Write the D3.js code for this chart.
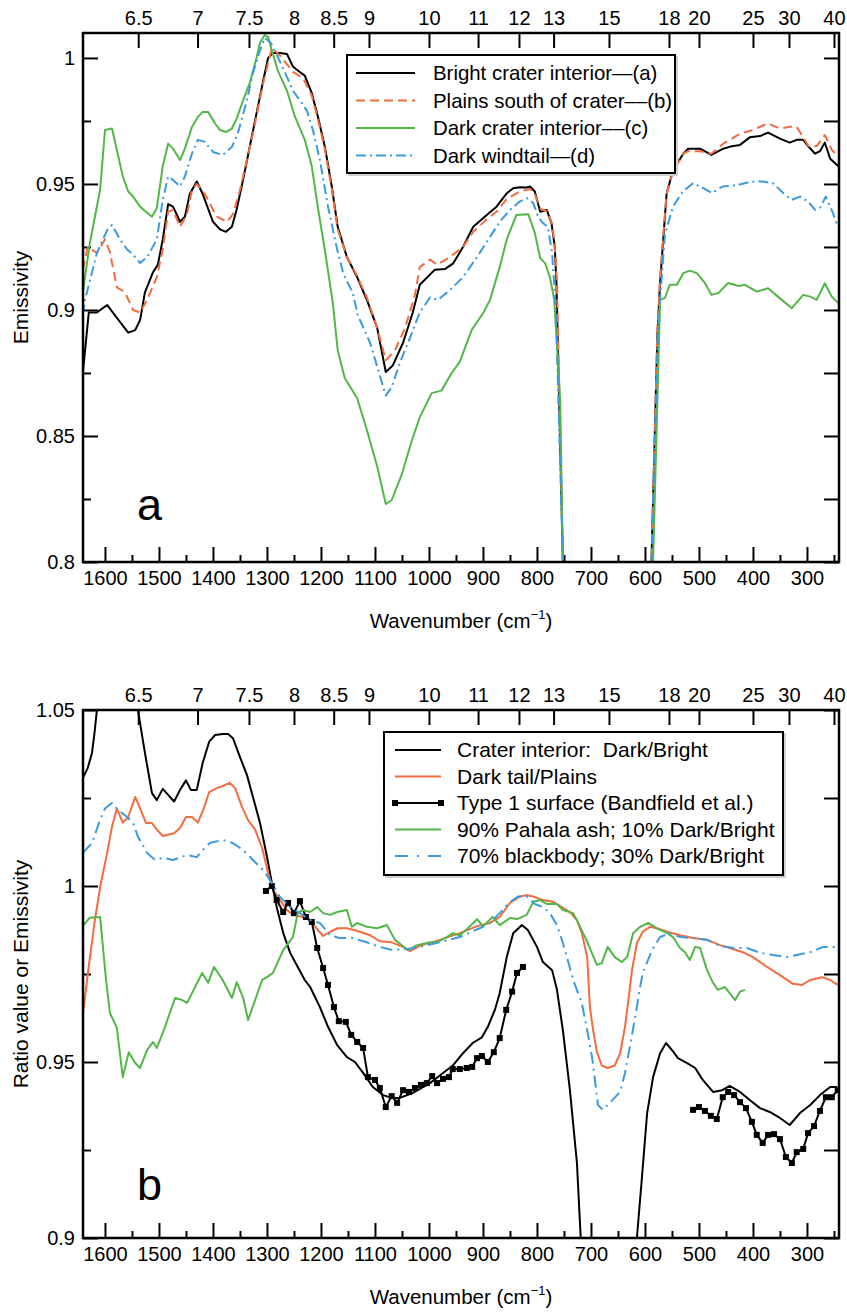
<!DOCTYPE html>
<html>
<head>
<meta charset="utf-8">
<script src="https://cdn.jsdelivr.net/npm/d3@7"></script>
<style>
  body { margin: 0; background: #fff; }
  svg text { font-family: "Liberation Sans", Arial, Helvetica, sans-serif; fill: #000; }
</style>
</head>
<body>
<svg id="chart" width="847" height="1314"></svg>
<script>
// ---- axis ticks ----
const wnMajor = [1600, 1500, 1400, 1300, 1200, 1100, 1000, 900, 800, 700, 600, 500, 400, 300];
const wnMinor = [1550, 1450, 1350, 1250, 1150, 1050, 950, 850, 750, 650, 550, 450, 350, 250];
const micronTicks = [6.5, 7, 7.5, 8, 8.5, 9, 10, 11, 12, 13, 15, 18, 20, 25, 30, 40];
const yMajorA = [0.8, 0.85, 0.9, 0.95, 1];
const yMinorA = [0.825, 0.875, 0.925, 0.975];
const yMajorB = [0.9, 0.95, 1, 1.05];
const yMinorB = [0.925, 0.975, 1.025];

// ---- panel a: emissivity spectra [wavenumber, emissivity] ----
const brightInterior = [
  [1641,0.875],[1630,0.899],[1615,0.899],[1596,0.902],[1582,0.898],[1557,0.891],[1544,0.892],[1535,0.896],
  [1526,0.907],[1511,0.915],[1502,0.918],[1493,0.928],[1483,0.942],[1474,0.941],[1461,0.935],[1452,0.937],
  [1443,0.946],[1430,0.951],[1419,0.946],[1400,0.935],[1387,0.932],[1376,0.931],[1365,0.933],[1356,0.940],
  [1344,0.952],[1326,0.971],[1307,0.991],[1298,1.000],[1289,1.002],[1276,1.002],[1263,1.0016],[1252,0.9966],
  [1243,0.995],[1230,0.993],[1217,0.986],[1206,0.977],[1193,0.965],[1180,0.949],[1169,0.933],[1152,0.921],
  [1133,0.913],[1115,0.904],[1096,0.893],[1080,0.8754],[1067,0.878],[1048,0.887],[1030,0.899],[1017,0.910],
  [989,0.916],[970,0.9163],[955,0.9185],[937,0.925],[918,0.933],[893,0.9377],[875,0.941],[856,0.9463],
  [844,0.9483],[832,0.9487],[819,0.9486],[813,0.949],[804,0.947],[794,0.939],[782,0.9397],[773,0.9344],
  [767,0.925],[764,0.911],[752,0.8],[745,0.75],[592,0.75],[588,0.8],[577,0.89],[572,0.911],[560,0.946],
  [548,0.9556],[529,0.962],[520,0.964],[498,0.964],[477,0.9615],[455,0.964],[439,0.965],[424,0.9655],
  [406,0.9685],[387,0.969],[372,0.9704],[350,0.968],[332,0.9664],[319,0.9675],[307,0.9675],[298,0.965],
  [285,0.962],[276,0.963],[267,0.9664],[257,0.960],[242,0.957]
];
const plainsSouth = [
  [1641,0.916],[1632,0.925],[1615,0.9226],[1600,0.928],[1591,0.923],[1578,0.909],[1563,0.907],[1548,0.900],
  [1535,0.899],[1522,0.904],[1504,0.913],[1493,0.924],[1483,0.939],[1474,0.9397],[1461,0.933],[1448,0.938],
  [1439,0.9476],[1430,0.950],[1415,0.946],[1393,0.937],[1374,0.935],[1363,0.938],[1350,0.9476],[1326,0.970],
  [1307,0.990],[1291,1.004],[1276,1.001],[1252,0.9945],[1233,0.992],[1217,0.985],[1206,0.976],[1193,0.964],
  [1180,0.948],[1169,0.932],[1152,0.921],[1133,0.9135],[1115,0.905],[1096,0.893],[1080,0.880],[1063,0.884],
  [1044,0.893],[1026,0.906],[1017,0.917],[998,0.920],[985,0.918],[961,0.921],[937,0.925],[918,0.931],
  [893,0.936],[875,0.939],[856,0.944],[832,0.947],[813,0.948],[804,0.946],[793,0.940],[780,0.939],
  [772,0.934],[767,0.925],[763,0.911],[752,0.8],[745,0.75],[592,0.75],[588,0.8],[577,0.892],[572,0.913],
  [560,0.946],[548,0.955],[529,0.962],[520,0.963],[498,0.963],[477,0.962],[455,0.966],[439,0.968],
  [424,0.970],[406,0.971],[387,0.9727],[372,0.974],[350,0.972],[332,0.9727],[319,0.9727],[297,0.965],
  [282,0.965],[267,0.9694],[254,0.9635],[242,0.961]
];
const darkInterior = [
  [1641,0.907],[1628,0.9266],[1609,0.9476],[1600,0.9714],[1587,0.972],[1578,0.9635],[1567,0.953],[1557,0.947],
  [1548,0.945],[1535,0.941],[1513,0.937],[1504,0.9405],[1493,0.957],[1483,0.966],[1474,0.964],[1461,0.9595],
  [1452,0.964],[1439,0.9726],[1428,0.9766],[1419,0.9786],[1409,0.9786],[1396,0.974],[1387,0.9714],[1376,0.9706],
  [1365,0.972],[1356,0.976],[1344,0.9833],[1332,0.990],[1319,1.0004],[1313,1.006],[1304,1.0091],[1298,1.0083],
  [1291,1.003],[1280,0.995],[1263,0.987],[1248,0.9766],[1230,0.9675],[1217,0.957],[1206,0.941],[1193,0.924],
  [1178,0.9027],[1169,0.884],[1156,0.873],[1133,0.865],[1115,0.8524],[1096,0.838],[1080,0.823],[1069,0.8246],
  [1050,0.835],[1032,0.848],[1017,0.8575],[995,0.867],[977,0.868],[958,0.875],[943,0.8794],[921,0.892],
  [899,0.899],[887,0.904],[869,0.917],[856,0.928],[838,0.9377],[816,0.938],[804,0.9306],[794,0.9206],
  [785,0.9186],[776,0.913],[768,0.904],[757,0.864],[752,0.8],[745,0.75],[590,0.75],[585,0.8],[572,0.904],
  [563,0.9048],[554,0.910],[541,0.910],[529,0.9146],[517,0.9156],[504,0.9146],[489,0.9107],[477,0.906],
  [464,0.9067],[446,0.9107],[427,0.9095],[415,0.910],[393,0.9073],[372,0.9086],[350,0.9046],[328,0.9007],
  [307,0.906],[294,0.9053],[282,0.904],[267,0.9106],[254,0.9053],[242,0.9027]
];
const darkWindtail = [
  [1641,0.898],[1637,0.904],[1615,0.9226],[1596,0.9317],[1587,0.9337],[1572,0.928],[1559,0.924],[1548,0.922],
  [1535,0.9186],[1522,0.921],[1504,0.928],[1493,0.9437],[1483,0.953],[1474,0.9516],[1461,0.949],[1452,0.953],
  [1439,0.962],[1428,0.9675],[1415,0.9667],[1400,0.9627],[1382,0.9615],[1365,0.9647],[1354,0.970],[1337,0.9833],
  [1326,0.994],[1313,1.003],[1304,1.008],[1293,1.006],[1280,1.0004],[1263,0.9925],[1252,0.987],[1235,0.982],
  [1226,0.979],[1215,0.9714],[1202,0.9595],[1187,0.941],[1170,0.924],[1159,0.9147],[1141,0.9067],[1132,0.898],
  [1109,0.887],[1080,0.866],[1069,0.8694],[1054,0.879],[1035,0.889],[1017,0.899],[998,0.905],[983,0.904],
  [961,0.908],[937,0.913],[911,0.921],[887,0.929],[869,0.935],[850,0.9397],[832,0.943],[819,0.9444],
  [807,0.9425],[798,0.937],[789,0.9345],[780,0.933],[772,0.9226],[765,0.90],[752,0.8],[745,0.75],
  [592,0.75],[588,0.8],[576,0.893],[563,0.930],[548,0.941],[530,0.947],[511,0.9503],[493,0.9484],
  [476,0.9464],[456,0.949],[428,0.9496],[406,0.9508],[382,0.951],[363,0.9503],[344,0.9464],[328,0.9437],
  [313,0.945],[298,0.943],[285,0.9397],[276,0.9405],[265,0.945],[252,0.9385],[243,0.933]
];

// ---- panel b: ratios and models [wavenumber, value] ----
const craterRatio = [
  [1641,1.0307],[1632,1.0335],[1624,1.0378],[1619,1.044],[1615,1.05],[1609,1.06],[1544,1.06],[1539,1.05],
  [1526,1.0378],[1513,1.0264],[1504,1.0244],[1493,1.0276],[1483,1.0259],[1472,1.024],[1461,1.0273],[1450,1.030],
  [1441,1.0273],[1430,1.0273],[1419,1.035],[1407,1.041],[1396,1.0429],[1382,1.0432],[1372,1.0432],[1363,1.042],
  [1350,1.0366],[1337,1.0315],[1326,1.0253],[1313,1.018],[1300,1.0083],[1291,1.0009],[1282,0.994],[1270,0.9867],
  [1257,0.981],[1243,0.977],[1230,0.9733],[1220,0.9713],[1202,0.9656],[1187,0.960],[1170,0.9548],[1152,0.9514],
  [1137,0.950],[1122,0.9469],[1104,0.9429],[1085,0.9406],[1069,0.9398],[1054,0.9398],[1030,0.9412],[998,0.944],
  [974,0.9469],[956,0.949],[937,0.9525],[919,0.9554],[902,0.957],[891,0.960],[878,0.9648],[869,0.9696],
  [856,0.9798],[844,0.9866],[828,0.9889],[817,0.9875],[800,0.9827],[789,0.9784],[772,0.9761],[763,0.9705],
  [752,0.959],[739,0.942],[726,0.9213],[719,0.90],[711,0.88],[622,0.88],[615,0.90],[606,0.9165],
  [596,0.9355],[585,0.9457],[572,0.9525],[561,0.9554],[548,0.953],[539,0.9511],[522,0.9497],[507,0.9483],
  [493,0.9449],[474,0.9415],[457,0.942],[443,0.9432],[424,0.9415],[406,0.9392],[387,0.9369],[369,0.9358],
  [350,0.9341],[332,0.9321],[313,0.9355],[294,0.9378],[276,0.9406],[257,0.9429],[244,0.9429]
];
const tailPlainsRatio = [
  [1641,0.9634],[1631,0.976],[1619,0.990],[1609,0.9997],[1596,1.0094],[1587,1.0168],[1578,1.022],[1567,1.018],
  [1557,1.0196],[1544,1.0253],[1535,1.022],[1524,1.0179],[1513,1.0179],[1504,1.016],[1493,1.0142],[1472,1.015],
  [1461,1.0165],[1450,1.0196],[1439,1.0196],[1428,1.018],[1417,1.022],[1407,1.0267],[1393,1.0278],[1382,1.0284],
  [1369,1.0293],[1359,1.0278],[1346,1.0224],[1335,1.0187],[1322,1.016],[1309,1.0108],[1298,1.0037],[1289,0.9989],
  [1276,0.996],[1263,0.9932],[1252,0.9918],[1233,0.9912],[1217,0.9898],[1206,0.9875],[1196,0.9858],[1183,0.987],
  [1169,0.988],[1152,0.988],[1132,0.9872],[1109,0.986],[1091,0.9843],[1069,0.984],[1048,0.9827],[1035,0.9815],
  [1017,0.983],[980,0.9847],[943,0.9866],[911,0.9886],[887,0.9895],[869,0.9912],[850,0.9952],[832,0.997],
  [819,0.9974],[807,0.997],[789,0.996],[770,0.9955],[754,0.994],[739,0.9926],[726,0.9903],[717,0.9866],
  [707,0.9798],[702,0.9656],[696,0.959],[689,0.9528],[680,0.949],[669,0.9483],[656,0.949],[646,0.9525],
  [637,0.960],[630,0.9685],[624,0.9761],[615,0.9838],[604,0.987],[591,0.9884],[578,0.988],[559,0.987],
  [535,0.986],[511,0.9852],[485,0.9847],[461,0.9832],[437,0.9821],[419,0.9812],[400,0.9798],[374,0.977],
  [350,0.9747],[326,0.9722],[309,0.9719],[294,0.9733],[272,0.9741],[257,0.9733],[243,0.9719]
];
const type1Surface = [
  [1302,0.9986],[1291,1.0],[1282,0.996],[1270,0.9926],[1261,0.9952],[1250,0.9923],[1239,0.9957],[1228,0.9912],
  [1217,0.9898],[1207,0.9824],[1196,0.9767],[1187,0.9719],[1176,0.9656],[1167,0.9616],[1154,0.9614],[1144,0.9577],
  [1133,0.9557],[1122,0.954],[1113,0.9457],[1100,0.9449],[1091,0.9426],[1080,0.9372],[1069,0.9403],[1059,0.9384],
  [1048,0.942],[1037,0.9415],[1026,0.9426],[1015,0.9435],[1004,0.944],[994,0.946],[985,0.944],[974,0.9452],
  [963,0.9457],[956,0.948],[943,0.948],[930,0.9483],[920,0.9486],[911,0.9511],[902,0.9517],[891,0.950],
  [880,0.9528],[869,0.9568],[857,0.9648],[846,0.970],[837,0.9753],[826,0.977]
];
const type1SurfaceFar = [
  [511,0.9364],[500,0.9372],[489,0.9361],[478,0.9347],[467,0.9338],[456,0.940],[446,0.9415],[435,0.9406],
  [424,0.9386],[413,0.9369],[402,0.933],[393,0.9293],[382,0.927],[372,0.9293],[361,0.9295],[350,0.9281],
  [339,0.923],[328,0.9213],[319,0.9244],[307,0.9253],[298,0.9298],[287,0.9318],[276,0.9361],[265,0.940],
  [254,0.940],[243,0.942]
];
const pahalaMix = [
  [1641,0.9886],[1628,0.991],[1609,0.9912],[1598,0.9733],[1591,0.964],[1578,0.9597],[1567,0.9457],[1556,0.9528],
  [1544,0.9497],[1535,0.9483],[1522,0.9534],[1511,0.9557],[1504,0.954],[1493,0.9582],[1470,0.9682],[1457,0.9676],
  [1448,0.9668],[1420,0.9753],[1409,0.9725],[1398,0.977],[1382,0.9733],[1365,0.9682],[1356,0.9727],[1344,0.9682],
  [1335,0.9619],[1322,0.9676],[1309,0.9733],[1300,0.9741],[1289,0.9753],[1270,0.9818],[1252,0.9855],[1243,0.9923],
  [1233,0.9932],[1220,0.9926],[1207,0.994],[1196,0.9923],[1183,0.9918],[1170,0.9926],[1152,0.9932],[1143,0.9884],
  [1133,0.9895],[1115,0.9884],[1096,0.988],[1078,0.9889],[1063,0.9847],[1039,0.9818],[1022,0.9832],[998,0.984],
  [985,0.984],[967,0.9855],[956,0.9866],[943,0.986],[928,0.988],[911,0.9906],[900,0.9886],[882,0.9912],
  [869,0.9889],[850,0.9909],[837,0.9906],[819,0.9918],[807,0.9955],[794,0.996],[782,0.9949],[763,0.9949],
  [752,0.9932],[733,0.9923],[720,0.9884],[706,0.9838],[689,0.9776],[680,0.9781],[669,0.9827],[656,0.9798],
  [643,0.9784],[633,0.9798],[622,0.9866],[609,0.9884],[594,0.9895],[578,0.988],[559,0.9866],[548,0.9855],
  [535,0.9824],[526,0.9812],[517,0.979],[507,0.9827],[498,0.9824],[485,0.9761],[474,0.9725],[465,0.9705],
  [452,0.9713],[433,0.9676],[424,0.970],[415,0.9705]
];
const blackbodyMix = [
  [1641,1.0094],[1624,1.0122],[1609,1.0188],[1600,1.022],[1587,1.0236],[1576,1.0216],[1559,1.0196],[1548,1.0179],
  [1539,1.014],[1522,1.0094],[1507,1.0074],[1493,1.008],[1474,1.0074],[1448,1.0088],[1430,1.0082],[1419,1.0102],
  [1406,1.0122],[1382,1.0131],[1363,1.0122],[1344,1.0102],[1326,1.0074],[1307,1.0045],[1291,1.0009],[1276,0.9969],
  [1257,0.994],[1239,0.9923],[1220,0.9903],[1202,0.9895],[1183,0.986],[1165,0.9852],[1141,0.9852],[1115,0.984],
  [1091,0.9827],[1067,0.9818],[1041,0.9821],[1017,0.9827],[980,0.984],[943,0.9855],[906,0.988],[887,0.9895],
  [869,0.9923],[850,0.9955],[835,0.997],[819,0.997],[804,0.9949],[789,0.994],[776,0.9923],[763,0.9889],
  [752,0.9838],[743,0.979],[733,0.9733],[717,0.9668],[707,0.959],[698,0.9514],[687,0.9378],[678,0.9364],
  [665,0.9384],[646,0.9415],[637,0.9469],[628,0.9543],[619,0.962],[609,0.9713],[604,0.9753],[587,0.9818],
  [572,0.9855],[554,0.9866],[535,0.9855],[511,0.9852],[485,0.9847],[461,0.983],[437,0.9824],[411,0.9824],
  [387,0.981],[363,0.9804],[337,0.9798],[319,0.9804],[294,0.9812],[270,0.9827],[243,0.9827]
];

// ---- colours ----
const BLACK = '#000', ORANGE = '#f26c3f', GREEN = '#52b747', BLUE = '#3c9ade';

const svg = d3.select('#chart');
const left = 83, right = 839;
const x = d3.scaleLinear().domain([1640.7, 240.7]).range([left, right]);

function drawPanel(cfg) {
  const { top, bottom, id } = cfg;
  const y = d3.scaleLinear().domain(cfg.yDomain).range([bottom, top]);
  const g = svg.append('g');

  g.append('clipPath').attr('id', 'clip-' + id)
    .append('rect')
      .attr('x', left).attr('y', top)
      .attr('width', right - left).attr('height', bottom - top);

  // 1) ticks (all pointing inward)
  const fmt = d => String(+d.toFixed(3));
  const tickStyle = sel => {
    sel.select('.domain').remove();
    sel.selectAll('line').attr('stroke', '#000').attr('stroke-width', 2);
    sel.selectAll('text').style('font-size', '20px').attr('fill', '#000');
  };

  g.append('g').attr('transform', `translate(0,${bottom})`)
    .call(d3.axisBottom(x).tickValues(wnMajor).tickSize(-15).tickPadding(9).tickFormat(d3.format('d')))
    .call(tickStyle);
  g.append('g').attr('transform', `translate(0,${bottom})`)
    .call(d3.axisBottom(x).tickValues(wnMinor).tickSize(-7).tickFormat(''))
    .call(tickStyle);

  g.append('g').attr('transform', `translate(0,${top})`)
    .call(d3.axisTop(x).tickValues(micronTicks.map(m => 1e4 / m)).tickSize(-15).tickPadding(8)
      .tickFormat(d => fmt(1e4 / d)))
    .call(tickStyle);

  g.append('g').attr('transform', `translate(${left},0)`)
    .call(d3.axisLeft(y).tickValues(cfg.yMajor).tickSize(-15).tickPadding(8).tickFormat(fmt))
    .call(tickStyle);
  g.append('g').attr('transform', `translate(${left},0)`)
    .call(d3.axisLeft(y).tickValues(cfg.yMinor).tickSize(-8).tickFormat(''))
    .call(tickStyle);

  g.append('g').attr('transform', `translate(${right},0)`)
    .call(d3.axisRight(y).tickValues(cfg.yMajor.concat(cfg.yMinor)).tickSize(-15).tickFormat(''))
    .call(tickStyle);

  // 2) curves
  const line = d3.line().x(d => x(d[0])).y(d => y(d[1]));
  const plot = g.append('g').attr('clip-path', `url(#clip-${id})`);
  cfg.series.forEach(s => {
    plot.append('path')
      .datum(s.data)
      .attr('fill', 'none')
      .attr('stroke', s.color)
      .attr('stroke-width', s.width || 2)
      .attr('stroke-linejoin', 'round')
      .attr('stroke-dasharray', s.dash || null)
      .attr('d', line);
    if (s.markers) {
      plot.append('g').selectAll('rect')
        .data(s.data)
        .join('rect')
          .attr('x', d => x(d[0]) - 3)
          .attr('y', d => y(d[1]) - 3)
          .attr('width', 6).attr('height', 6)
          .attr('fill', s.color);
    }
  });

  // 3) frame
  g.append('rect')
    .attr('x', left).attr('y', top)
    .attr('width', right - left).attr('height', bottom - top)
    .attr('fill', 'none').attr('stroke', '#000').attr('stroke-width', 2.5);

  // 4) titles
  const xt = g.append('text')
    .attr('x', (left + right) / 2).attr('y', bottom + 66)
    .attr('text-anchor', 'middle').style('font-size', '20.5px')
    .text('Wavenumber (cm');
  xt.append('tspan').attr('dy', -9).style('font-size', '13px').text('\u22121');
  xt.append('tspan').attr('dy', 9).text(')');

  g.append('text')
    .attr('transform', `translate(28,${(top + bottom) / 2}) rotate(-90)`)
    .attr('text-anchor', 'middle').style('font-size', '21px')
    .text(cfg.yTitle);

  g.append('text')
    .attr('x', 137).attr('y', cfg.tagY)
    .style('font-size', '45px')
    .text(id);

  // 5) legend (with a faint drop shadow)
  const L = cfg.legend;
  const lg = g.append('g');
  lg.append('rect')
    .attr('x', L.x + 2).attr('y', L.y + 2).attr('width', L.w).attr('height', L.h)
    .attr('fill', 'none').attr('stroke', '#d0d0d0').attr('stroke-width', 2);
  lg.append('rect')
    .attr('x', L.x).attr('y', L.y).attr('width', L.w).attr('height', L.h)
    .attr('fill', '#fff').attr('stroke', '#000').attr('stroke-width', 2);
  cfg.series.filter(s => s.label).forEach((s, i) => {
    const cy = L.y + L.first + i * L.step;
    lg.append('line')
      .attr('x1', L.x1).attr('x2', L.x2).attr('y1', cy).attr('y2', cy)
      .attr('stroke', s.color).attr('stroke-width', 2)
      .attr('stroke-dasharray', s.legendDash || s.dash || null);
    if (s.markers) {
      [L.x1, L.x2].forEach(mx => lg.append('rect')
        .attr('x', mx - 3).attr('y', cy - 3).attr('width', 6).attr('height', 6).attr('fill', s.color));
    }
    lg.append('text')
      .attr('x', L.tx).attr('y', cy).attr('dy', '0.35em')
      .style('font-size', L.font).style('white-space', 'pre')
      .text(s.label);
  });
}

drawPanel({
  id: 'a', top: 33, bottom: 562, yDomain: [0.8, 1.0099],
  yMajor: yMajorA, yMinor: yMinorA, yTitle: 'Emissivity', tagY: 520,
  series: [
    { data: brightInterior, color: BLACK, label: 'Bright crater interior\u2014(a)' },
    { data: plainsSouth, color: ORANGE, dash: '9,5', label: 'Plains south of crater\u2013\u2013(b)' },
    { data: darkInterior, color: GREEN, label: 'Dark crater interior\u2013\u2013(c)' },
    { data: darkWindtail, color: BLUE, dash: '10,4,2,4', label: 'Dark windtail\u2014(d)' }
  ],
  legend: { x: 347, y: 55, w: 328, h: 118, first: 18, step: 27.5, x1: 356, x2: 415, tx: 433, font: '20.4px' }
});

drawPanel({
  id: 'b', top: 710, bottom: 1238, yDomain: [0.9, 1.05],
  yMajor: yMajorB, yMinor: yMinorB, yTitle: 'Ratio value or Emissivity', tagY: 1200,
  series: [
    { data: craterRatio, color: BLACK, label: 'Crater interior:  Dark/Bright' },
    { data: tailPlainsRatio, color: ORANGE, label: 'Dark tail/Plains' },
    { data: type1Surface, color: BLACK, markers: true, label: 'Type 1 surface (Bandfield et al.)' },
    { data: pahalaMix, color: GREEN, label: '90% Pahala ash; 10% Dark/Bright' },
    { data: blackbodyMix, color: BLUE, dash: '12,5,2,5', legendDash: '13,9,2,9', label: '70% blackbody; 30% Dark/Bright' },
    { data: type1SurfaceFar, color: BLACK, markers: true }
  ],
  legend: { x: 384, y: 732, w: 399, h: 143, first: 18, step: 26.5, x1: 395, x2: 441, tx: 457, font: '21px' }
});
</script>
</body>
</html>
